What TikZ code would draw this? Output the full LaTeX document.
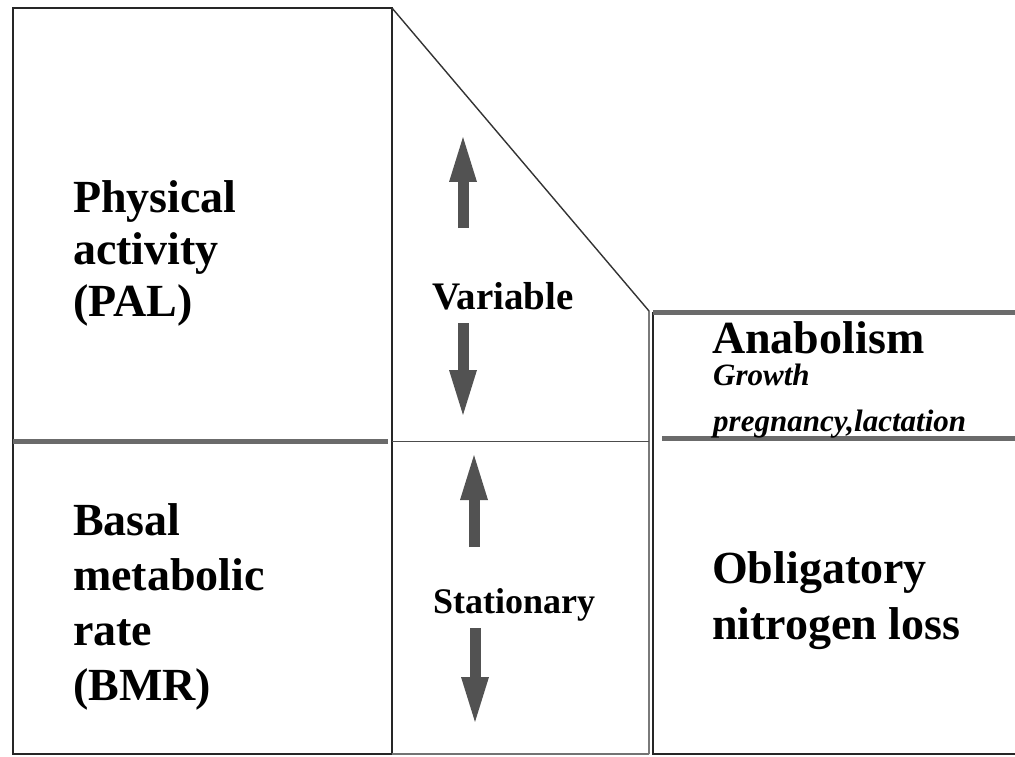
\documentclass[tikz,border=0pt]{standalone}
\usepackage{fontspec}
\setmainfont{Liberation Serif}
\usepackage{tikz}
\usetikzlibrary{arrows.meta,positioning}

\begin{document}
\begin{tikzpicture}[x=1pt, y=-1pt,
  frame/.style={draw=black!85, line width=2.6pt},
  thinline/.style={draw=black!80, line width=1.4pt},
  band/.style={draw=black!58, line width=5pt},
  bigtxt/.style={font=\fontsize{46}{53}\selectfont\bfseries, align=left, anchor=north west, inner sep=0pt},
  midtxt/.style={font=\fontsize{38}{44}\selectfont\bfseries, anchor=north west, inner sep=0pt},
  smalltxt/.style={font=\fontsize{31}{46}\selectfont\bfseries\itshape, align=left, anchor=north west, inner sep=0pt},
  fatarr/.style={draw=black!68, line width=11pt, -{Triangle[length=50pt, width=24pt]}}
]
\useasboundingbox (0,0) rectangle (1015,757);

% corners of the three columns
\coordinate (tl) at (13,8);
\coordinate (tm) at (392,8);
\coordinate (bl) at (13,754);
\coordinate (bm) at (392,754);
\coordinate (kink) at (649,311);
\coordinate (bk) at (649,754);
\coordinate (rt) at (653,312);
\coordinate (rb) at (653,754);

\draw[frame] (bm) -- (bl) -- (tl) -- (tm) -- (bm);
\draw[thinline] (tm) -- (kink) -- (bk);
\draw[draw=black!70, line width=1pt] (392,441) -- (649,441);
\draw[draw=black!55, line width=1.6pt] (bm) -- (bk);
\draw[frame] (rt) -- (rb) -- (1015,754);

\draw[band] (13,441) -- (388,441);
\draw[band] (rt) -- (1015,312);
\draw[band] (662,438) -- (1015,438);

% arrows of the middle column
\coordinate (vup0) at (463,228);
\coordinate (vup1) at (463,132);
\coordinate (vdn0) at (463,323);
\coordinate (vdn1) at (463,420);
\coordinate (sup0) at (474,547);
\coordinate (sup1) at (474,450);
\coordinate (sdn0) at (475,628);
\coordinate (sdn1) at (475,727);

\draw[fatarr] (vup0) -- (vup1);
\draw[fatarr] (vdn0) -- (vdn1);
\draw[fatarr] (sup0) -- (sup1);
\draw[fatarr] (sdn0) -- (sdn1);

\node[bigtxt, font=\fontsize{46}{52}\selectfont\bfseries] (pal) at (73,180) {Physical\\activity\\(PAL)};
\node[bigtxt, font=\fontsize{46}{55}\selectfont\bfseries] (bmr) at (73,503) {Basal\\metabolic\\rate\\(BMR)};
\node[midtxt, font=\fontsize{39}{44}\selectfont\bfseries] (var) at (432,282) {Variable};
\node[midtxt, font=\fontsize{36}{44}\selectfont\bfseries] (stat) at (433,588) {Stationary};
\node[bigtxt] (ana) at (712,321) {Anabolism};
\node[smalltxt] (grow) at (713,364) {Growth\\pregnancy,lactation};
\node[bigtxt, font=\fontsize{46}{56}\selectfont\bfseries] (onl) at (712,551) {Obligatory\\nitrogen loss};

\end{tikzpicture}
\end{document}
